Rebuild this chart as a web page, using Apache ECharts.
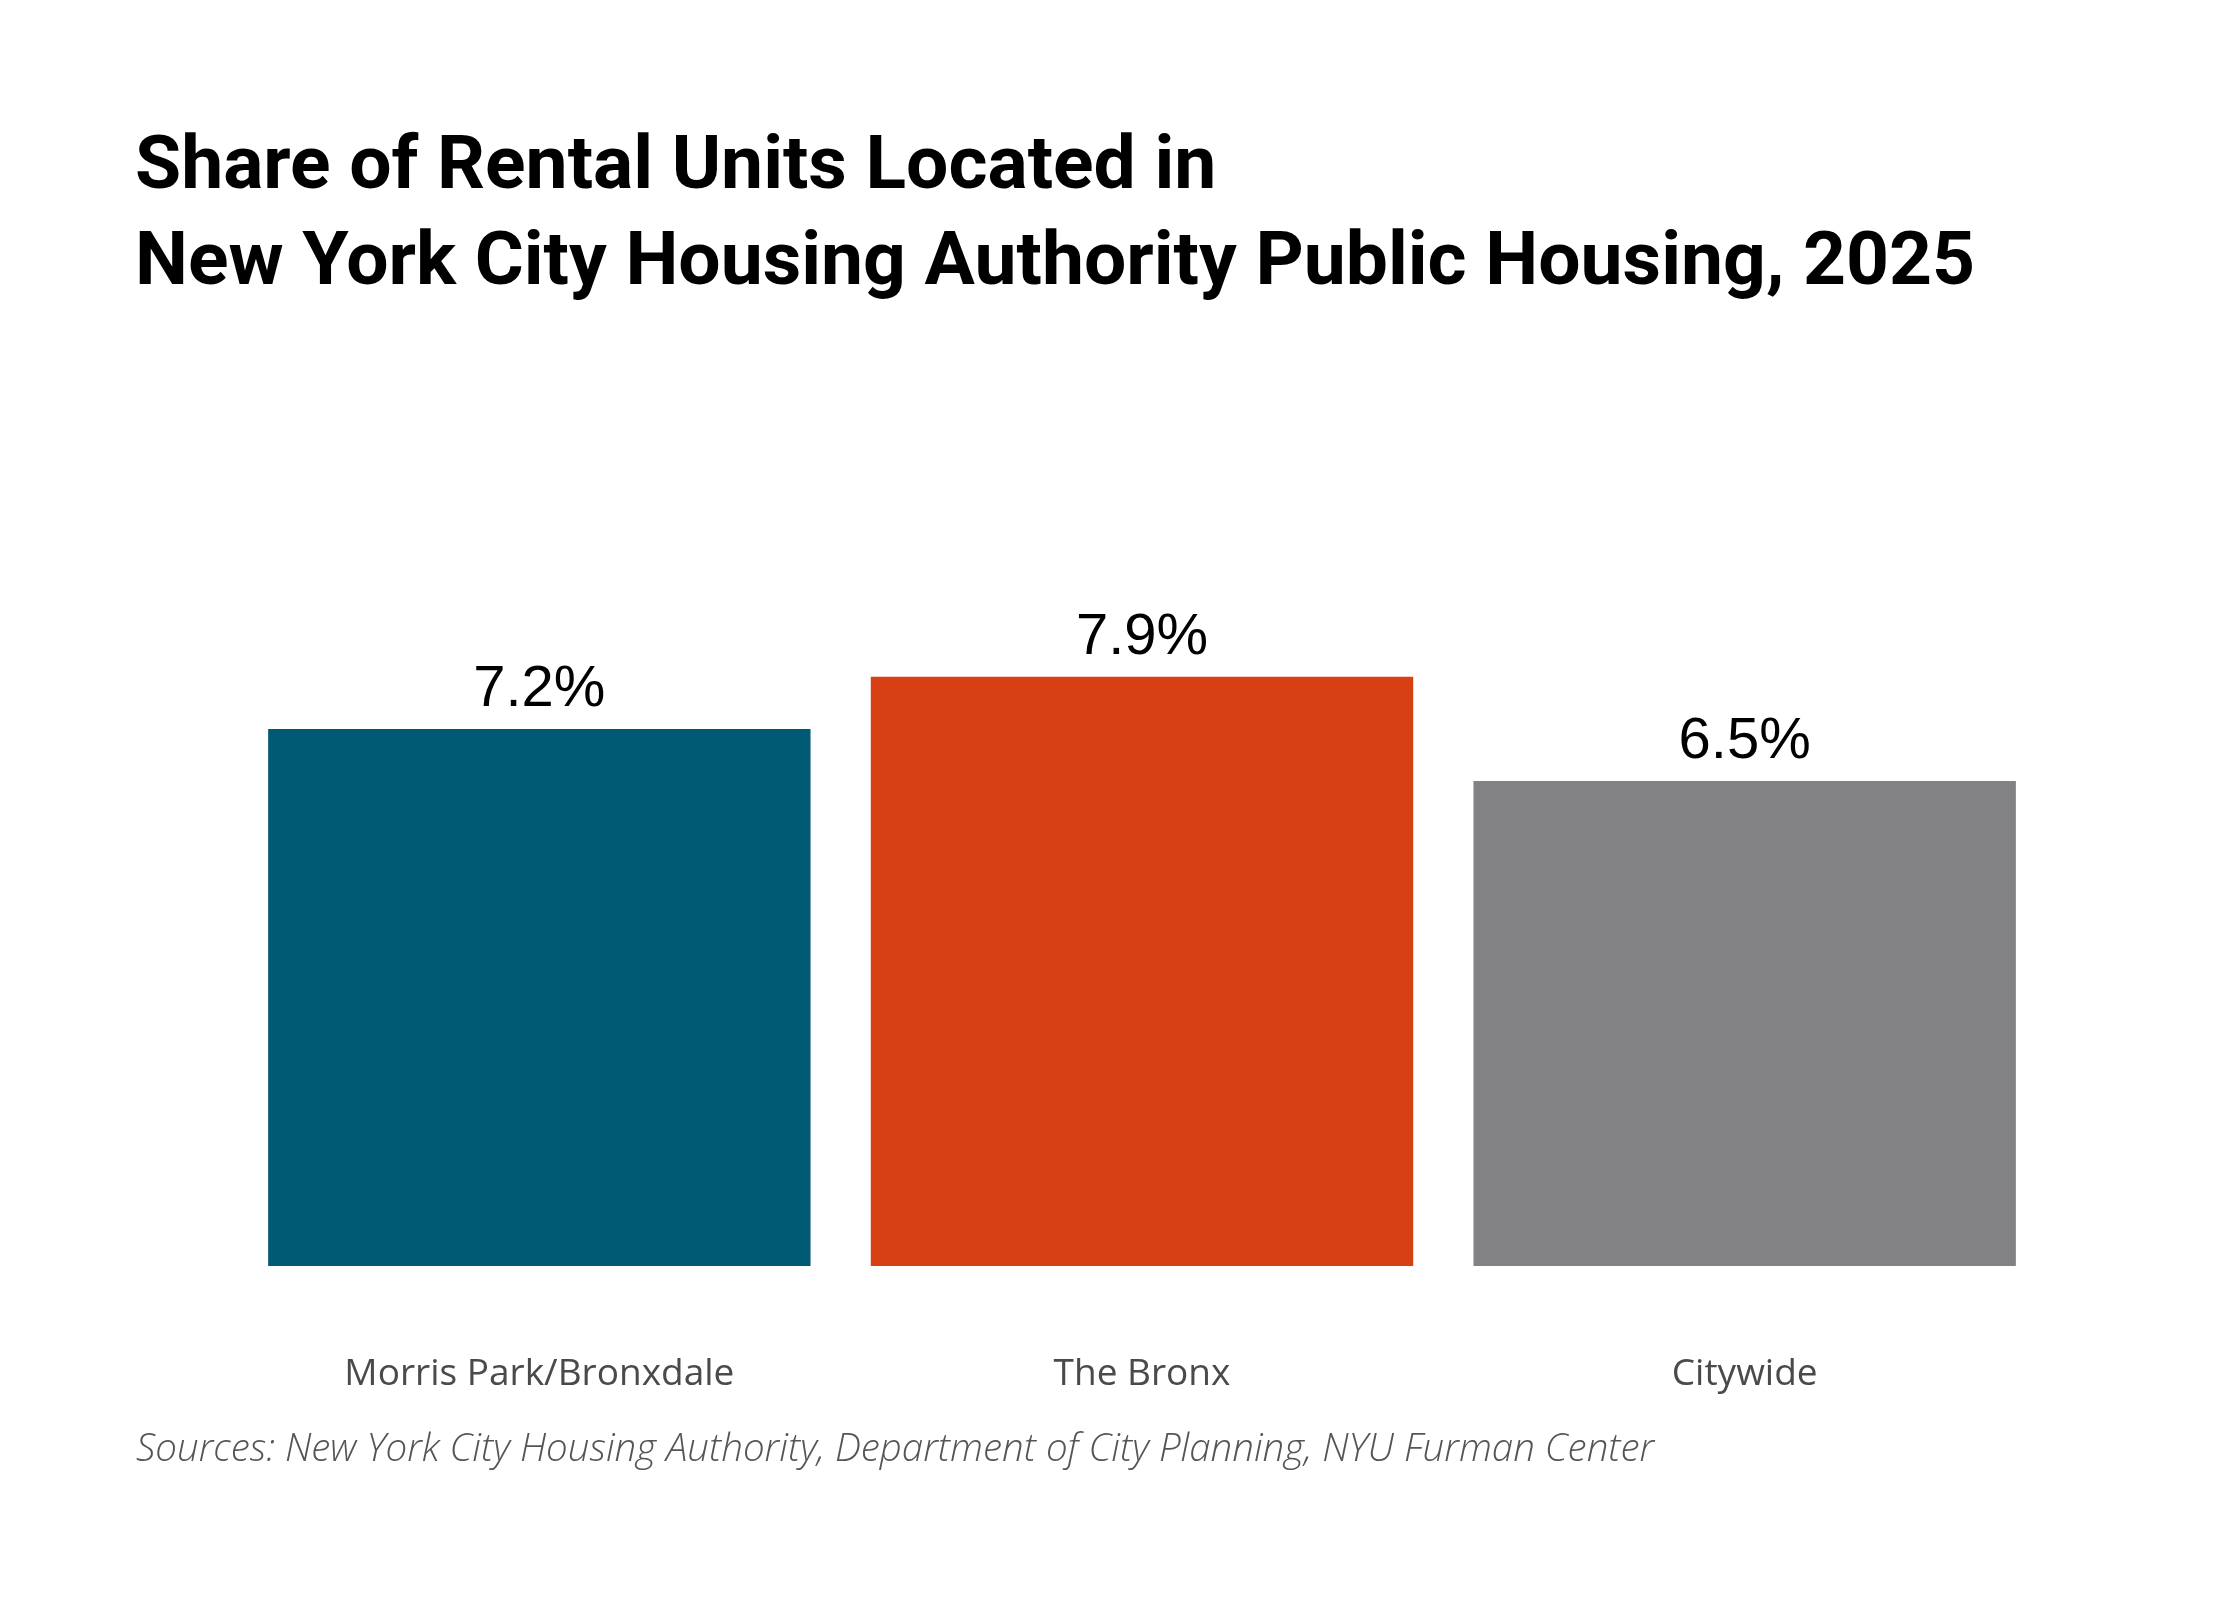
<!DOCTYPE html>
<html>
<head>
<meta charset="utf-8">
<script src="https://cdn.jsdelivr.net/npm/echarts@6/dist/echarts.min.js"></script>
<style>
  html, body { margin: 0; padding: 0; background: #fff; }
  #main { width: 2240px; height: 1600px; }
</style>
</head>
<body>
<div id="main"></div>
<script>
var categories = ['Morris Park/Bronxdale', 'The Bronx', 'Citywide'];
var shareValues = [7.2, 7.9, 6.5];
var barColors = ['#005a73', '#d64013', '#828284'];

var myChart = echarts.init(document.getElementById('main'));

var seriesData = [];
for (var i = 0; i < shareValues.length; i++) {
    seriesData.push({
        value: shareValues[i],
        itemStyle: { color: barColors[i] }
    });
}

var option = {
    backgroundColor: '#fff',
    animation: false,
    title: [{
        text: 'Share of Rental Units Located in\nNew York City Housing Authority Public Housing, 2025',
        left: 130,
        top: 116,
        textStyle: {
            fontFamily: 'Roboto',
            fontWeight: 'bold',
            fontSize: 75,
            lineHeight: 96,
            color: '#000'
        }
    }, {
        text: 'Sources: New York City Housing Authority, Department of City Planning, NYU Furman Center',
        left: 131,
        top: 1426,
        textStyle: {
            fontFamily: 'Open Sans',
            fontStyle: 'italic',
            fontWeight: 300,
            fontSize: 38.5,
            color: '#555'
        }
    }],
    grid: {
        left: 238,
        right: 194,
        top: 520,
        bottom: 334
    },
    xAxis: {
        type: 'category',
        data: categories,
        axisLine: { show: false },
        axisTick: { show: false },
        axisLabel: {
            margin: 90,
            fontFamily: 'Open Sans',
            fontSize: 37,
            color: '#4a4a4a'
        }
    },
    yAxis: {
        type: 'value',
        min: 0,
        max: 10,
        show: false,
        splitLine: { show: false }
    },
    series: [{
        type: 'bar',
        data: seriesData,
        barCategoryGap: '10%',
        label: {
            show: true,
            position: 'top',
            distance: 10,
            fontFamily: 'Liberation Sans',
            fontSize: 58,
            color: '#000',
            formatter: function (p) { return p.value.toFixed(1) + '%'; }
        }
    }]
};

myChart.setOption(option);
</script>
</body>
</html>
